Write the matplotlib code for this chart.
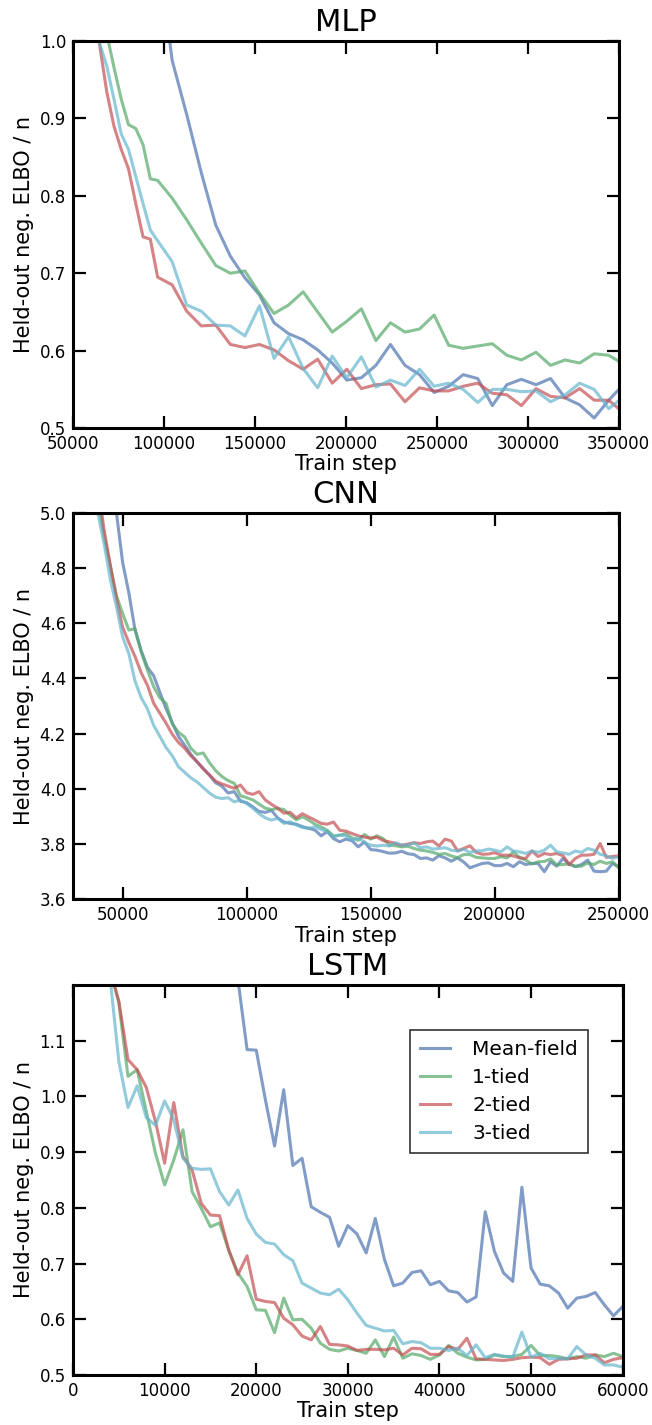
import numpy as np
import matplotlib

matplotlib.use("Agg")
import matplotlib.pyplot as plt
from matplotlib.ticker import FormatStrFormatter

nan = np.nan

# ---- MLP ----
mlp_steps = [60500, 64500, 68500, 72500, 76500, 80500, 84500, 88500, 92500,
             96500, 104500, 112500, 120500, 128500, 136500, 144500, 152500, 160500,
             168500, 176500, 184500, 192500, 200500, 208500, 216500, 224500, 232500,
             240500, 248500, 256500, 264500, 272500, 280500, 288500, 296500, 304500,
             312500, 320500, 328500, 336500, 344500, 352500]
mlp_mean_field = [nan, nan, nan, nan, nan, nan, nan, nan, nan,
                  1.12, 0.975, 0.905, 0.83, 0.762, 0.722, 0.694, 0.672, 0.636,
                  0.622, 0.614, 0.601, 0.584, 0.562, 0.565, 0.581, 0.608, 0.581,
                  0.569, 0.546, 0.554, 0.569, 0.564, 0.529, 0.556, 0.563, 0.556,
                  0.564, 0.539, 0.530, 0.513, 0.536, 0.556]
mlp_tied1 = [1.12, 1.05, 1.01, 0.966, 0.925, 0.892, 0.887, 0.866, 0.822,
             0.820, 0.797, 0.769, 0.739, 0.710, 0.700, 0.703, 0.674, 0.648,
             0.659, 0.676, 0.650, 0.624, 0.638, 0.654, 0.613, 0.636, 0.624,
             0.628, 0.646, 0.607, 0.603, 0.606, 0.609, 0.594, 0.588, 0.598,
             0.581, 0.588, 0.584, 0.596, 0.594, 0.583]
mlp_tied2 = [1.06, 0.997, 0.935, 0.89, 0.86, 0.835, 0.79, 0.747, 0.744,
             0.695, 0.685, 0.651, 0.632, 0.633, 0.608, 0.604, 0.608, 0.601,
             0.587, 0.576, 0.589, 0.558, 0.576, 0.551, 0.556, 0.557, 0.534,
             0.552, 0.548, 0.548, 0.554, 0.558, 0.545, 0.543, 0.529, 0.551,
             0.541, 0.539, 0.551, 0.536, 0.536, 0.520]
mlp_tied3 = [1.06, 0.998, 0.968, 0.925, 0.88, 0.86, 0.825, 0.79, 0.756,
             0.742, 0.715, 0.659, 0.651, 0.633, 0.632, 0.619, 0.658, 0.590,
             0.618, 0.577, 0.552, 0.593, 0.565, 0.592, 0.553, 0.562, 0.555,
             0.576, 0.554, 0.558, 0.550, 0.533, 0.550, 0.550, 0.547, 0.548,
             0.534, 0.543, 0.558, 0.550, 0.525, 0.540]

# ---- CNN ----
cnn_steps = list(range(37500, 252500, 2500))
cnn_mean_field = [nan, nan, nan, 5.3, 5.00, 4.82, 4.71, 4.575, 4.50, 4.44,
                  4.41, 4.35, 4.29, 4.24, 4.19, 4.158, 4.125, 4.098, 4.074, 4.05,
                  4.022, 4.01, 3.985, 3.99, 3.955, 3.95, 3.935, 3.918, 3.915, 3.922,
                  3.895, 3.88, 3.875, 3.872, 3.863, 3.857, 3.851, 3.83, 3.845, 3.82,
                  3.808, 3.818, 3.812, 3.79, 3.808, 3.78, 3.778, 3.773, 3.767, 3.768,
                  3.774, 3.765, 3.762, 3.748, 3.75, 3.742, 3.758, 3.75, 3.738, 3.75,
                  3.735, 3.714, 3.722, 3.73, 3.732, 3.722, 3.722, 3.73, 3.718, 3.736,
                  3.726, 3.73, 3.73, 3.70, 3.736, 3.72, 3.748, 3.728, 3.718, 3.726,
                  3.742, 3.702, 3.70, 3.702, 3.73, 3.718]
cnn_tied1 = [5.35, 5.05, 4.915, 4.81, 4.70, 4.635, 4.575, 4.58, 4.495, 4.43,
             4.37, 4.33, 4.31, 4.235, 4.205, 4.188, 4.147, 4.125, 4.13, 4.095,
             4.066, 4.045, 4.03, 4.02, 3.975, 3.968, 3.96, 3.945, 3.93, 3.925,
             3.929, 3.925, 3.905, 3.888, 3.899, 3.887, 3.872, 3.862, 3.85, 3.83,
             3.832, 3.838, 3.822, 3.814, 3.835, 3.818, 3.83, 3.82, 3.796, 3.794,
             3.79, 3.792, 3.784, 3.778, 3.775, 3.77, 3.763, 3.766, 3.757, 3.751,
             3.762, 3.762, 3.752, 3.75, 3.748, 3.748, 3.754, 3.75, 3.772, 3.752,
             3.742, 3.728, 3.736, 3.737, 3.746, 3.725, 3.726, 3.728, 3.72, 3.72,
             3.732, 3.726, 3.738, 3.73, 3.736, 3.714]
cnn_tied2 = [5.40, 5.10, 4.94, 4.81, 4.69, 4.585, 4.53, 4.479, 4.42, 4.375,
             4.31, 4.274, 4.238, 4.198, 4.168, 4.147, 4.12, 4.098, 4.072, 4.05,
             4.028, 4.018, 4.01, 4.002, 4.014, 3.986, 3.98, 3.99, 3.96, 3.944,
             3.93, 3.912, 3.915, 3.895, 3.91, 3.898, 3.887, 3.875, 3.872, 3.88,
             3.85, 3.847, 3.838, 3.83, 3.825, 3.822, 3.825, 3.813, 3.808, 3.802,
             3.796, 3.80, 3.805, 3.802, 3.808, 3.811, 3.793, 3.818, 3.811, 3.776,
             3.784, 3.794, 3.77, 3.763, 3.764, 3.769, 3.76, 3.76, 3.757, 3.75,
             3.748, 3.775, 3.755, 3.766, 3.762, 3.766, 3.758, 3.726, 3.748, 3.76,
             3.76, 3.763, 3.802, 3.752, 3.755, 3.758]
cnn_tied3 = [5.25, 5.00, 4.89, 4.76, 4.66, 4.55, 4.49, 4.39, 4.33, 4.29,
             4.23, 4.19, 4.15, 4.12, 4.08, 4.06, 4.04, 4.025, 4.005, 3.985,
             3.97, 3.965, 3.968, 3.953, 3.96, 3.947, 3.93, 3.91, 3.895, 3.887,
             3.893, 3.875, 3.881, 3.869, 3.86, 3.857, 3.863, 3.853, 3.845, 3.825,
             3.833, 3.83, 3.814, 3.825, 3.805, 3.796, 3.793, 3.796, 3.793, 3.805,
             3.796, 3.796, 3.805, 3.787, 3.79, 3.782, 3.784, 3.787, 3.778, 3.775,
             3.781, 3.77, 3.775, 3.776, 3.782, 3.778, 3.772, 3.79, 3.775, 3.772,
             3.766, 3.775, 3.77, 3.778, 3.796, 3.772, 3.768, 3.763, 3.775, 3.77,
             3.784, 3.778, 3.763, 3.758, 3.748, 3.754]

# ---- LSTM ----
lstm_steps = list(range(3000, 61000, 1000))
lstm_mean_field = [nan] * 14 + [
    1.35, 1.21, 1.084, 1.083, 0.994, 0.911, 1.012, 0.876, 0.889, 0.802,
    0.792, 0.783, 0.731, 0.768, 0.753, 0.719, 0.781, 0.707, 0.660, 0.665,
    0.684, 0.687, 0.662, 0.668, 0.651, 0.648, 0.631, 0.640, 0.793, 0.722,
    0.683, 0.668, 0.837, 0.692, 0.663, 0.660, 0.647, 0.620, 0.638, 0.641,
    0.648, 0.626, 0.606, 0.623]
lstm_tied1 = [1.40, 1.23, 1.168, 1.036, 1.048, 0.973, 0.898, 0.841, 0.886, 0.940,
              0.829, 0.799, 0.766, 0.773, 0.724, 0.683, 0.659, 0.617, 0.616, 0.576,
              0.638, 0.599, 0.600, 0.584, 0.557, 0.546, 0.543, 0.548, 0.544, 0.539,
              0.563, 0.533, 0.568, 0.530, 0.538, 0.535, 0.528, 0.536, 0.553, 0.539,
              0.532, 0.527, 0.528, 0.536, 0.533, 0.533, 0.537, 0.553, 0.535, 0.535,
              0.533, 0.529, 0.533, 0.530, 0.536, 0.533, 0.539, 0.533]
lstm_tied2 = [1.40, 1.23, 1.171, 1.066, 1.048, 1.016, 0.955, 0.880, 0.989, 0.892,
              0.868, 0.808, 0.787, 0.786, 0.724, 0.680, 0.714, 0.636, 0.632, 0.630,
              0.602, 0.590, 0.570, 0.563, 0.587, 0.555, 0.554, 0.552, 0.544, 0.546,
              0.546, 0.545, 0.548, 0.536, 0.548, 0.547, 0.537, 0.537, 0.551, 0.546,
              0.566, 0.529, 0.528, 0.527, 0.526, 0.528, 0.531, 0.532, 0.531, 0.519,
              0.528, 0.529, 0.530, 0.536, 0.536, 0.522, 0.528, 0.531]
lstm_tied3 = [1.40, 1.22, 1.063, 0.980, 1.019, 0.962, 0.948, 0.992, 0.958, 0.889,
              0.871, 0.869, 0.870, 0.829, 0.805, 0.832, 0.781, 0.753, 0.738, 0.735,
              0.716, 0.705, 0.665, 0.656, 0.647, 0.644, 0.654, 0.635, 0.611, 0.589,
              0.584, 0.579, 0.580, 0.556, 0.560, 0.558, 0.548, 0.548, 0.544, 0.548,
              0.535, 0.554, 0.531, 0.537, 0.534, 0.532, 0.577, 0.532, 0.539, 0.529,
              0.530, 0.529, 0.551, 0.536, 0.530, 0.518, 0.518, 0.514]

labels = ["Mean-field", "1-tied", "2-tied", "3-tied"]
colors = ["#4C72B0", "#55A868", "#C44E52", "#64B5CD"]

plt.rcParams["font.family"] = ["DejaVu Sans"]


def style_axis(axis, title, xlim, ylim, xticks, yticks):
    axis.set_xlim(*xlim)
    axis.set_ylim(*ylim)
    axis.set_xticks(xticks)
    axis.set_yticks(yticks)
    axis.yaxis.set_major_formatter(FormatStrFormatter("%.1f"))
    axis.tick_params(direction="in", length=9, width=1.6, labelsize=12,
                     top=True, right=True, pad=5)
    for spine in axis.spines.values():
        spine.set_linewidth(2.2)
    axis.set_title(title, fontsize=22, pad=7)
    axis.set_xlabel("Train step", fontsize=15, labelpad=1)
    axis.set_ylabel("Held-out neg. ELBO / n", fontsize=15, labelpad=4)


def draw(axis, steps, series):
    for values, label, color in zip(series, labels, colors):
        axis.plot(steps, values, color=color, alpha=0.7, lw=2.2, label=label)


fig = plt.figure(figsize=(6.52, 14.25), dpi=100)
ax_mlp = fig.add_axes([0.112, 0.6996, 0.837, 0.2716])
ax_cnn = fig.add_axes([0.112, 0.3689, 0.837, 0.2713])
ax_lstm = fig.add_axes([0.112, 0.0351, 0.843, 0.2737])

draw(ax_mlp, mlp_steps, [mlp_mean_field, mlp_tied1, mlp_tied2, mlp_tied3])
style_axis(ax_mlp, "MLP", (50000, 350000), (0.5, 1.0),
           range(50000, 350001, 50000), np.arange(0.5, 1.01, 0.1))

draw(ax_cnn, cnn_steps, [cnn_mean_field, cnn_tied1, cnn_tied2, cnn_tied3])
style_axis(ax_cnn, "CNN", (30000, 250000), (3.6, 5.0),
           range(50000, 250001, 50000), np.arange(3.6, 5.01, 0.2))

draw(ax_lstm, lstm_steps, [lstm_mean_field, lstm_tied1, lstm_tied2, lstm_tied3])
style_axis(ax_lstm, "LSTM", (0, 60000), (0.5, 1.2),
           range(0, 60001, 10000), np.arange(0.5, 1.11, 0.1))
legend = ax_lstm.legend(loc="upper right", bbox_to_anchor=(0.955, 0.91),
                        fontsize=14.5, fancybox=False, handlelength=1.5,
                        handletextpad=1.1, labelspacing=0.45, borderpad=0.5)
legend.get_frame().set_edgecolor("black")
legend.get_frame().set_linewidth(1.2)
for line in legend.get_lines():
    line.set_linewidth(2.2)

fig.savefig("out.png", dpi=100)
